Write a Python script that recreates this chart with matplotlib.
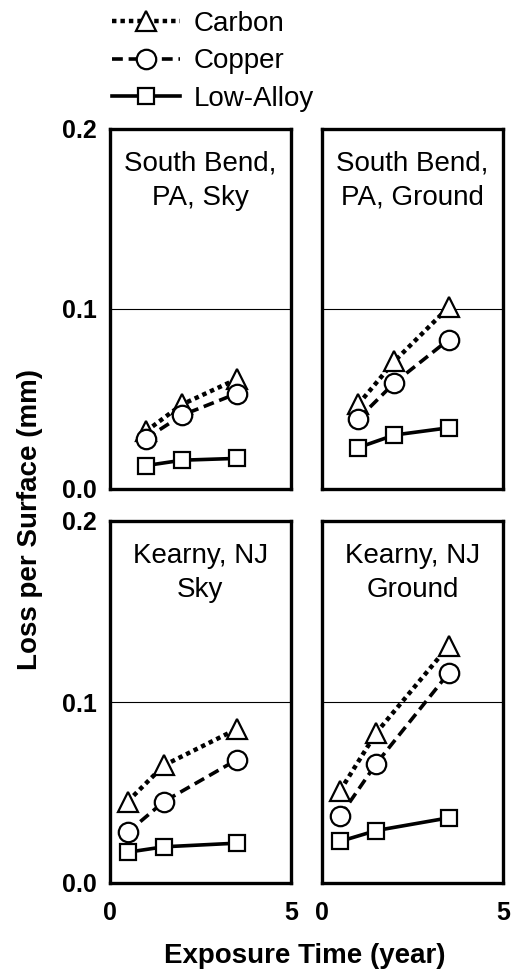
import matplotlib
matplotlib.use("Agg")
import matplotlib.pyplot as plt
from matplotlib.lines import Line2D

plt.rcParams['font.family'] = ['Liberation Sans', 'DejaVu Sans']

# Exposure times (years) and losses (mm) for each site / orientation
panel_titles = ["South Bend,\nPA, Sky", "South Bend,\nPA, Ground",
                "Kearny, NJ\nSky", "Kearny, NJ\nGround"]

years_south_bend = [1.0, 2.0, 3.5]
years_kearny = [0.5, 1.5, 3.5]

carbon_sb_sky = [0.032, 0.047, 0.061]
copper_sb_sky = [0.028, 0.041, 0.053]
lowalloy_sb_sky = [0.013, 0.016, 0.017]

carbon_sb_ground = [0.047, 0.071, 0.101]
copper_sb_ground = [0.039, 0.059, 0.083]
lowalloy_sb_ground = [0.023, 0.030, 0.034]

carbon_kn_sky = [0.045, 0.065, 0.085]
copper_kn_sky = [0.028, 0.045, 0.068]
lowalloy_kn_sky = [0.017, 0.020, 0.022]

carbon_kn_ground = [0.051, 0.083, 0.131]
copper_kn_ground = [0.037, 0.066, 0.116]
lowalloy_kn_ground = [0.023, 0.029, 0.036]

series_names = ["Carbon", "Copper", "Low-Alloy"]
x_ticks = [0, 5]
y_ticks = [0.0, 0.1, 0.2]
y_ticklabels = ["0.0", "0.1", "0.2"]

panels = [
    (years_south_bend, [carbon_sb_sky, copper_sb_sky, lowalloy_sb_sky]),
    (years_south_bend, [carbon_sb_ground, copper_sb_ground, lowalloy_sb_ground]),
    (years_kearny, [carbon_kn_sky, copper_kn_sky, lowalloy_kn_sky]),
    (years_kearny, [carbon_kn_ground, copper_kn_ground, lowalloy_kn_ground]),
]

styles = [
    dict(marker='^', linestyle=(0, (1.0, 0.9)), ms=14.5, lw=3.2),
    dict(marker='o', linestyle=(0, (3.0, 1.6)), ms=14, lw=2.6),
    dict(marker='s', linestyle='-', ms=12, lw=2.6),
]
common = dict(color='black', mfc='white', mec='black', mew=1.6)

fig = plt.figure(figsize=(5.12, 9.77), dpi=100)
W, H = 512.0, 977.0
cols = [(109.5, 291.0), (322.0, 503.0)]
rows = [(129.0, 489.0), (521.0, 883.0)]

axes = []
for r, (top, bot) in enumerate(rows):
    for c, (left, right) in enumerate(cols):
        ax = fig.add_axes([left / W, 1 - bot / H, (right - left) / W, (bot - top) / H])
        axes.append((ax, r, c))

for i, (ax, r, c) in enumerate(axes):
    years, vals = panels[i]
    ax.axhline(0.1, color='black', lw=0.8, zorder=1)
    for v, st in zip(vals, styles):
        ax.plot(years, v, zorder=3, **common, **st)
    ax.set_xlim(0, 5)
    ax.set_ylim(0, 0.2)
    for s in ax.spines.values():
        s.set_linewidth(2.4)
    ax.set_xticks(x_ticks)
    ax.set_yticks(y_ticks)
    ax.tick_params(length=0, labelsize=18)
    ax.tick_params(axis='y', pad=9)
    ax.tick_params(axis='x', pad=13)
    if c == 0:
        ax.set_yticklabels(y_ticklabels, fontweight='bold')
    else:
        ax.set_yticklabels([])
    if r == 1:
        ax.set_xticklabels([str(t) for t in x_ticks], fontweight='bold')
    else:
        ax.set_xticklabels([])
    ax.text(0.5, 1 - 52 / 360, panel_titles[i], transform=ax.transAxes,
            ha='center', va='center', fontsize=20, linespacing=1.4)

handles = [Line2D([], [], **common, **st) for st in styles]
fig.legend(handles, series_names, loc='upper left',
           bbox_to_anchor=(112 / W, 1 - 11 / H), borderaxespad=0, borderpad=0,
           frameon=False, fontsize=20, handlelength=2.45, handletextpad=0.5,
           labelspacing=0.41)

fig.text(305 / W, 1 - 956 / H, "Exposure Time (year)", ha='center', va='center',
         fontsize=20, fontweight='bold')
fig.text(30 / W, 1 - 520 / H, "Loss per Surface (mm)", ha='center', va='center',
         rotation=90, fontsize=20, fontweight='bold')

fig.savefig("out.png", dpi=100)
